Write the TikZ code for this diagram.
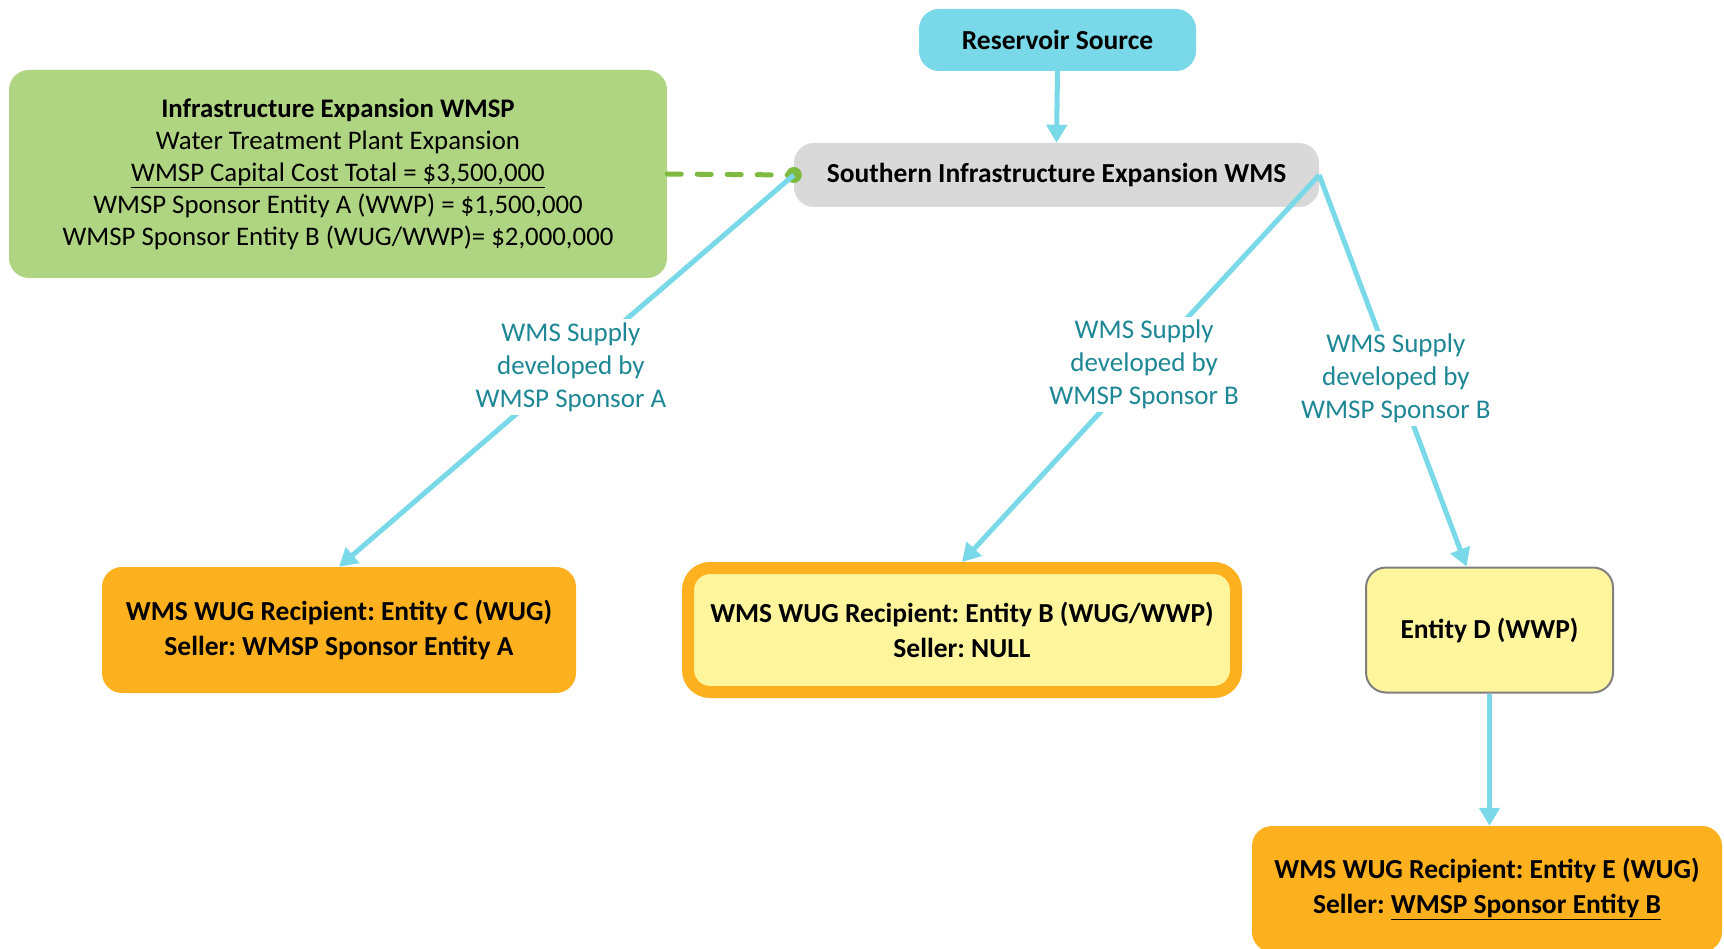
\documentclass[tikz,border=0pt]{standalone}
\usepackage{fontspec}
\setmainfont{Carlito}
\usetikzlibrary{arrows.meta,calc}
\definecolor{cyanc}{HTML}{79D9E8}
\definecolor{grayc}{HTML}{D9D9D9}
\definecolor{greenc}{HTML}{B0D582}
\definecolor{greendk}{HTML}{7DBA3F}
\definecolor{orangec}{HTML}{FDB11E}
\definecolor{yellowc}{HTML}{FFF59D}
\definecolor{borderg}{HTML}{7F7F7F}
\definecolor{tealc}{HTML}{1E8796}
\tikzset{
  box/.style={rounded corners=20pt, align=center, inner sep=0pt, font=\fontsize{27.5}{35}\selectfont\bfseries\frenchspacing},
  conn/.style={draw=cyanc, line width=5pt, -{Triangle[width=20pt,length=18pt]}},
  lbl/.style={fill=white, text=tealc, align=center, inner sep=3pt, font=\fontsize{27}{33}\selectfont},
}
\begin{document}
\begin{tikzpicture}[x=1pt,y=-1pt]
\useasboundingbox (0,0) rectangle (1724,949);
\clip (0,0) rectangle (1724,949);
\fill[white] (0,0) rectangle (1724,949);

\node[box, fill=cyanc, minimum width=277pt, minimum height=62pt] (res) at (1057.5,40) {Reservoir Source};
\node[box, fill=grayc, minimum width=525pt, minimum height=64pt] (wms) at (1056.5,175) {Southern Infrastructure Expansion WMS};
\node[box, fill=greenc, minimum width=658pt, minimum height=208pt, font=\fontsize{26.8}{32}\selectfont\frenchspacing] (grn) at (338,174)
  {\textbf{Infrastructure Expansion WMSP}\\
   Water Treatment Plant Expansion\\
   \underline{WMSP Capital Cost Total = \$3,500,000}\\
   WMSP Sponsor Entity A (WWP) = \$1,500,000\\
   WMSP Sponsor Entity B (WUG/WWP)= \$2,000,000};
\node[box, fill=orangec, minimum width=474pt, minimum height=126pt] (ec) at (339,630)
  {WMS WUG Recipient: Entity C (WUG)\\ Seller: WMSP Sponsor Entity A};
\node[box, fill=yellowc, draw=orangec, line width=12pt, minimum width=548pt, minimum height=124pt, rounded corners=22pt] (eb) at (962,630)
  {WMS WUG Recipient: Entity B (WUG/WWP)\\ Seller: NULL};
\node[box, fill=yellowc, draw=borderg, line width=2pt, minimum width=247pt, minimum height=125pt] (ed) at (1489.5,630)
  {Entity D (WWP)};
\node[box, fill=orangec, minimum width=470pt, minimum height=126pt] (ee) at (1487,889)
  {WMS WUG Recipient: Entity E (WUG)\\ Seller: \underline{WMSP Sponsor Entity B}};

\draw[greendk, line width=5pt, line cap=round, dash pattern=on 14pt off 16pt] (grn.east) -- (wms.west);
\fill[greendk] (wms.west) circle (8pt);

\draw[conn] (res.south) -- (wms.north);
\draw[conn] (wms.west) -- node[lbl, pos=0.49] {WMS Supply\\developed by\\WMSP Sponsor A} (ec.north);
\draw[conn] (wms.east) -- node[lbl, pos=0.49] {WMS Supply\\developed by\\WMSP Sponsor B} (eb.north);
\coordinate (dtop) at ([xshift=-23pt]ed.north);
\draw[conn] (wms.east) -- node[lbl, pos=0.52] {WMS Supply\\developed by\\WMSP Sponsor B} (dtop);
\draw[conn] (ed.south) -- (ed.south |- ee.north);
\end{tikzpicture}
\end{document}
